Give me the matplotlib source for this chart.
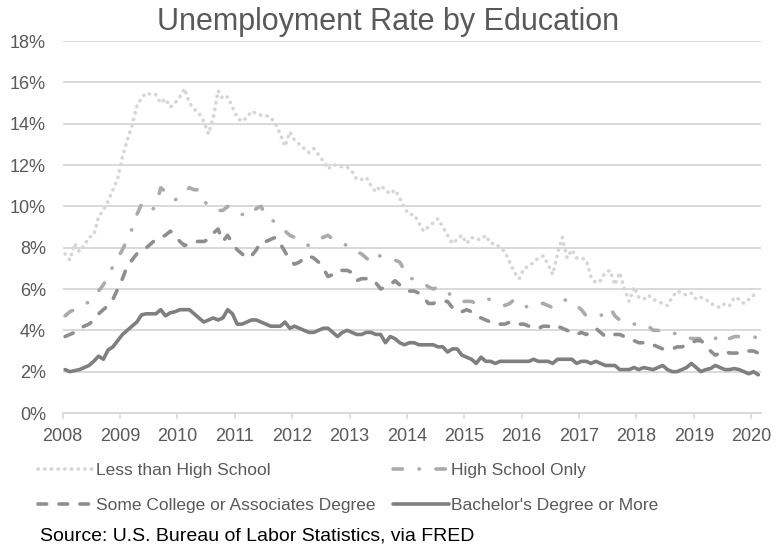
import numpy as np
import matplotlib
matplotlib.use('Agg')
import matplotlib.pyplot as plt

# ---------------- data (monthly, Jan 2008 - Feb 2020, %) ----------------
years = ['2008', '2009', '2010', '2011', '2012', '2013', '2014',
         '2015', '2016', '2017', '2018', '2019', '2020']

less_than_hs = [
    7.7, 7.4, 8.2, 7.8, 8.1, 8.5, 8.6, 9.5, 9.8, 10.25, 10.8, 11.35,
    12.4, 13.2, 13.9, 14.85, 15.25, 15.5, 15.4, 15.4, 15.0, 15.2, 14.8, 15.0,
    15.3, 15.7, 15.0, 14.7, 14.5, 14.1, 13.5, 14.3, 15.6, 15.2, 15.3, 14.8,
    14.3, 14.1, 14.3, 14.6, 14.5, 14.4, 14.4, 14.3, 14.0, 13.5, 12.9, 13.6,
    13.2, 13.0, 12.8, 12.6, 12.8, 12.5, 12.2, 11.8, 12.0, 12.0, 11.9, 11.9,
    11.7, 11.3, 11.3, 11.4, 11.0, 10.7, 11.0, 10.8, 10.6, 10.8, 10.4, 9.9,
    9.6, 9.6, 9.2, 8.8, 9.0, 9.2, 9.4, 9.0, 8.6, 8.2, 8.4, 8.6,
    8.2, 8.5, 8.4, 8.4, 8.6, 8.2, 8.2, 8.0, 7.8, 7.3, 6.8, 6.5,
    7.0, 7.1, 7.3, 7.5, 7.6, 7.2, 6.7, 7.7, 8.5, 7.5, 7.9, 7.5,
    7.5, 7.4, 6.6, 6.3, 6.4, 6.8, 6.9, 6.2, 6.8, 6.0, 5.4, 6.1,
    5.6, 5.5, 5.7, 5.5, 5.4, 5.3, 5.2, 5.6, 5.9, 5.8, 5.7, 5.8,
    5.5, 5.6, 5.5, 5.3, 5.2, 5.1, 5.3, 5.2, 5.6, 5.5, 5.3, 5.5,
    5.7, 5.5,
]

high_school_only = [
    4.7, 4.9, 5.0, 5.1, 5.2, 5.4, 5.6, 5.9, 6.2, 6.6, 7.1, 7.5,
    7.9, 8.4, 8.9, 9.6, 10.1, 9.8, 9.8, 10.0, 10.9, 10.7, 10.4, 10.3,
    10.5, 10.7, 10.9, 10.8, 10.8, 10.3, 10.0, 9.9, 9.8, 9.8, 10.0, 9.8,
    9.7, 9.6, 9.7, 9.6, 9.9, 10.0, 9.5, 9.4, 9.2, 9.0, 8.8, 8.6,
    8.5, 8.4, 8.2, 8.1, 8.2, 8.4, 8.5, 8.6, 8.4, 8.3, 8.2, 8.1,
    8.0, 7.8, 7.7, 7.5, 7.3, 7.6, 7.6, 7.5, 7.5, 7.4, 7.3, 6.9,
    6.5, 6.5, 6.4, 6.3, 6.1, 6.0, 6.1, 5.9, 5.8, 5.7, 5.5, 5.4,
    5.4, 5.4, 5.3, 5.4, 5.5, 5.5, 5.4, 5.3, 5.2, 5.3, 5.5, 5.3,
    5.2, 5.1, 5.2, 5.3, 5.3, 5.2, 5.1, 5.2, 5.4, 5.5, 5.4, 5.2,
    5.0, 4.7, 4.7, 4.7, 4.7, 4.9, 5.1, 4.7, 4.5, 4.4, 4.3, 4.3,
    4.3, 4.3, 4.2, 4.0, 4.0, 3.9, 3.9, 3.9, 3.8, 3.8, 3.7, 3.6,
    3.6, 3.6, 3.6, 3.5, 3.6, 3.8, 3.8, 3.6, 3.7, 3.7, 3.7, 3.7,
    3.7, 3.6,
]

some_college = [
    3.7, 3.8, 3.9, 4.1, 4.2, 4.3, 4.5, 4.8, 5.0, 5.2, 5.5, 6.0,
    6.5, 7.1, 7.4, 7.7, 7.8, 8.0, 8.2, 8.4, 8.5, 8.6, 8.8, 8.6,
    8.3, 8.1, 8.2, 8.3, 8.3, 8.3, 8.4, 8.7, 8.9, 8.3, 8.6, 8.2,
    7.9, 7.7, 7.5, 7.6, 7.9, 8.3, 8.3, 8.4, 8.5, 8.2, 7.8, 7.4,
    7.2, 7.3, 7.5, 7.6, 7.5, 7.3, 7.0, 6.6, 6.7, 6.9, 6.9, 6.9,
    6.8, 6.4, 6.5, 6.5, 6.5, 6.3, 6.0, 6.1, 6.2, 6.4, 6.2, 6.0,
    5.9, 5.9, 5.8, 5.6, 5.3, 5.3, 5.4, 5.4, 5.4, 5.1, 4.9, 4.9,
    5.0, 4.9, 4.7, 4.6, 4.5, 4.4, 4.3, 4.3, 4.3, 4.4, 4.4, 4.3,
    4.3, 4.2, 4.1, 4.1, 4.2, 4.2, 4.1, 4.2, 4.1, 4.0, 3.9, 3.8,
    3.9, 3.8, 3.9, 4.1, 3.9, 3.7, 3.7, 3.8, 3.8, 3.7, 3.6, 3.5,
    3.4, 3.4, 3.3, 3.3, 3.2, 3.1, 3.1, 3.1, 3.2, 3.2, 3.3, 3.4,
    3.5, 3.5, 3.3, 3.0, 2.8, 2.9, 3.0, 2.9, 2.9, 2.9, 3.0, 3.0,
    3.0, 2.9,
]

bachelors = [
    2.1, 2.0, 2.05, 2.1, 2.2, 2.3, 2.5, 2.75, 2.6, 3.05, 3.2, 3.5,
    3.8, 4.0, 4.2, 4.4, 4.75, 4.8, 4.8, 4.8, 5.0, 4.7, 4.85, 4.9,
    5.0, 5.0, 5.0, 4.8, 4.6, 4.4, 4.5, 4.6, 4.5, 4.6, 5.0, 4.8,
    4.3, 4.3, 4.4, 4.5, 4.5, 4.4, 4.3, 4.2, 4.2, 4.2, 4.4, 4.1,
    4.2, 4.1, 4.0, 3.9, 3.9, 4.0, 4.1, 4.1, 3.9, 3.7, 3.9, 4.0,
    3.9, 3.8, 3.8, 3.9, 3.9, 3.8, 3.8, 3.4, 3.7, 3.6, 3.4, 3.3,
    3.4, 3.4, 3.3, 3.3, 3.3, 3.3, 3.2, 3.2, 2.95, 3.1, 3.1, 2.8,
    2.7, 2.6, 2.4, 2.7, 2.5, 2.5, 2.4, 2.5, 2.5, 2.5, 2.5, 2.5,
    2.5, 2.5, 2.6, 2.5, 2.5, 2.5, 2.4, 2.6, 2.6, 2.6, 2.6, 2.4,
    2.5, 2.5, 2.4, 2.5, 2.4, 2.3, 2.3, 2.3, 2.1, 2.1, 2.1, 2.2,
    2.1, 2.2, 2.15, 2.1, 2.2, 2.3, 2.1, 2.0, 2.0, 2.1, 2.2, 2.4,
    2.2, 2.0, 2.1, 2.15, 2.3, 2.2, 2.1, 2.1, 2.15, 2.1, 2.0, 1.9,
    2.0, 1.85,
]

labels = ['Less than High School', 'High School Only',
          'Some College or Associates Degree', "Bachelor's Degree or More"]

# ---------------- figure ----------------
plt.rcParams['font.family'] = ['Liberation Sans', 'DejaVu Sans']
W, H = 777, 545
fig = plt.figure(figsize=(W / 100, H / 100), dpi=100)
left, right, top, bottom = 62.7, 760.7, 41, 413
ax = fig.add_axes([left / W, 1 - bottom / H, (right - left) / W, (bottom - top) / H])

n = len(bachelors)
x = np.arange(n) + 0.5

lw = 2.6
l1, = ax.plot(x, less_than_hs, color='#d6d6d6', lw=lw,
              linestyle=(0, (0.1, 1.75)), dash_capstyle='round')
l2, = ax.plot(x, high_school_only, color='#ababab', lw=lw,
              linestyle=(0, (2.6, 4.6, 0.1, 4.6)), dash_capstyle='round')
l3, = ax.plot(x, some_college, color='#8e8e8e', lw=lw,
              linestyle=(0, (2.4, 3.4)), dash_capstyle='round')
l4, = ax.plot(x, bachelors, color='#7f7f7f', lw=lw, solid_capstyle='round',
              solid_joinstyle='round')

ax.set_xlim(0, n)
ax.set_ylim(0, 18)
ax.set_yticks(np.arange(0, 19, 2))
ax.yaxis.set_major_formatter(lambda v, p: f'{v:.0f}%')
ax.set_xticks(np.arange(0, n, 12))
ax.set_xticklabels(years)

ax.grid(axis='y', color='#d9d9d9', lw=1.4)
ax.set_axisbelow(True)
for s in ['top', 'right', 'left']:
    ax.spines[s].set_visible(False)
ax.spines['bottom'].set_color('#d9d9d9')
ax.spines['bottom'].set_linewidth(1.4)
ax.tick_params(axis='x', direction='out', length=4, width=1.2, color='#d9d9d9',
               labelsize=13, labelcolor='#595959', pad=7)
ax.tick_params(axis='y', length=0, labelsize=13, labelcolor='#595959', pad=12)

fig.text(0.5, 1 - 22 / H, 'Unemployment Rate by Education', ha='center',
         va='center', fontsize=22, color='#595959')

# row-major order: row 1 = Less than HS, HS only; row 2 = Some college, Bachelor's
leg = fig.legend([l1, l3, l2, l4], [labels[0], labels[2], labels[1], labels[3]],
                 ncol=2, loc='upper left',
                 bbox_to_anchor=(38 / W, 1 - 463 / H), frameon=False,
                 fontsize=12.5, handlelength=3.2, handletextpad=0.15,
                 columnspacing=1.0, labelspacing=1.12, borderpad=0,
                 borderaxespad=0)
for t in leg.get_texts():
    t.set_color('#595959')

fig.text(40 / W, 1 - 536 / H, 'Source: U.S. Bureau of Labor Statistics, via FRED',
         ha='left', va='center', fontsize=14, color='#000000')

fig.savefig('out.png', dpi=100)
